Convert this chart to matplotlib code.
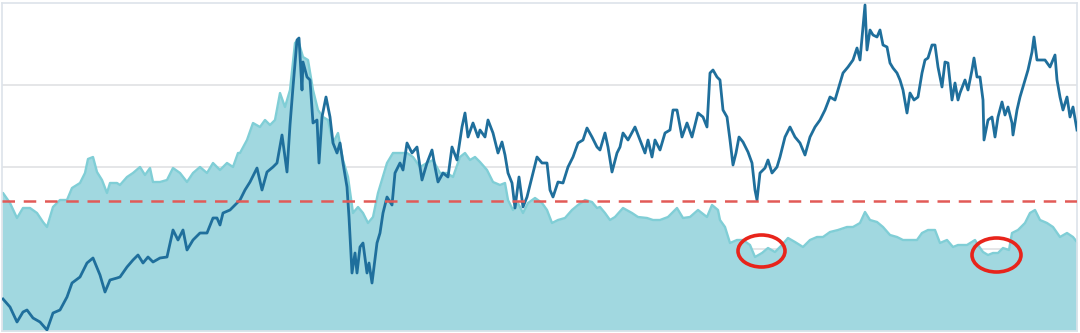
import matplotlib
matplotlib.use("Agg")
import matplotlib.pyplot as plt
from matplotlib.patches import Ellipse

# ---- data (x = time index, y = value) ----
area_t = [2, 3, 10, 17, 23, 30, 37, 43, 47, 53, 60, 67, 72, 80, 85, 88, 93, 97, 102, 107, 110, 117,
          120, 127, 133, 140, 145, 150, 153, 160, 167, 173, 180, 187, 193, 200, 207, 213, 220, 227, 233, 238,
          240, 247, 253, 260, 265, 270, 275, 280, 285, 290, 295, 298, 303, 308, 313, 318, 323, 328, 333, 338,
          343, 348, 353, 358, 363, 368, 373, 378, 387, 393, 400, 407, 413, 420, 427, 433, 440, 447, 453, 460,
          465, 470, 475, 480, 487, 493, 500, 505, 508, 513, 518, 523, 528, 535, 542, 547, 552, 558, 565, 572,
          578, 585, 592, 597, 600, 605, 610, 615, 623, 632, 638, 647, 653, 660, 668, 677, 683, 690, 698, 707,
          712, 718, 720, 725, 730, 737, 743, 750, 755, 762, 768, 775, 782, 788, 795, 803, 810, 817, 823, 830,
          838, 847, 853, 860, 865, 870, 877, 883, 890, 897, 903, 910, 917, 922, 928, 935, 940, 947, 953, 958,
          967, 975, 978, 983, 988, 993, 998, 1003, 1009, 1012, 1018, 1025, 1030, 1035, 1040, 1047, 1053, 1060,
          1067, 1073, 1077]
area_v = [138, 138, 128, 113, 123, 123, 118, 109, 104, 124, 131, 131, 143, 148, 158, 172, 174, 159, 151, 138, 148, 148,
          146, 154, 158, 164, 156, 163, 149, 149, 151, 163, 158, 149, 158, 164, 158, 168, 161, 168, 164, 178,
          178, 191, 208, 204, 211, 206, 211, 238, 224, 241, 288, 291, 274, 271, 241, 221, 214, 211, 188, 198,
          171, 154, 118, 124, 118, 108, 114, 138, 168, 178, 178, 178, 174, 164, 168, 171, 158, 158, 154, 174,
          178, 171, 174, 169, 161, 149, 146, 148, 131, 121, 128, 118, 128, 133, 128, 121, 108, 111, 113, 121,
          126, 131, 129, 123, 124, 118, 111, 114, 123, 118, 114, 113, 111, 111, 114, 123, 113, 114, 121, 114,
          126, 121, 111, 104, 88, 91, 91, 86, 74, 78, 83, 79, 86, 93, 89, 84, 91, 94, 94, 99,
          101, 104, 104, 108, 119, 111, 109, 104, 96, 94, 91, 91, 91, 98, 101, 101, 88, 91, 84, 86,
          86, 91, 86, 79, 76, 78, 78, 83, 81, 98, 101, 108, 118, 121, 111, 108, 104, 94,
          98, 94, 89]

line_t = [3, 10, 17, 23, 27, 33, 40, 47, 53, 60, 67, 72, 80, 87, 93, 100, 105, 110, 117,
          120, 127, 133, 138, 143, 148, 153, 160, 167, 173, 178, 183, 187, 193, 200, 207, 213, 217, 220, 223,
          230, 235, 240, 245, 250, 257, 262, 267, 273, 277, 282, 287, 290, 293, 297, 299, 302, 303, 307, 310,
          313, 317, 319, 322, 326, 330, 333, 337, 340, 343, 347, 349, 352, 355, 357, 360, 363, 367, 369, 372,
          377, 380, 383, 387, 392, 395, 400, 403, 407, 412, 417, 422, 427, 432, 435, 438, 443, 448, 452, 457,
          462, 465, 468, 473, 478, 480, 485, 488, 493, 498, 502, 505, 508, 512, 515, 519, 523, 527, 532, 537,
          542, 547, 550, 553, 558, 563, 568, 573, 578, 583, 587, 592, 597, 600, 605, 608, 612, 617, 620, 623,
          628, 635, 640, 645, 648, 652, 655, 660, 665, 670, 673, 677, 682, 687, 692, 698, 703, 707, 710, 713,
          717, 720, 723, 727, 730, 733, 736, 739, 743, 748, 752, 755, 757, 760, 765, 768, 772, 777, 780, 785,
          790, 795, 800, 805, 810, 815, 820, 825, 830, 835, 840, 843, 848, 853, 857, 860, 863, 865, 867, 870,
          873, 877, 880, 883, 887, 890, 893, 897, 900, 903, 907, 910, 914, 918, 922, 925, 928, 932, 935, 938,
          942, 945, 948, 952, 955, 958, 960, 965, 968, 972, 974, 977, 980, 983, 984, 988, 992, 995, 998, 1002,
          1005, 1008, 1012, 1013, 1017, 1020, 1023, 1028, 1032, 1034, 1037, 1040, 1045, 1050, 1055, 1057, 1060,
          1063, 1067, 1070, 1073, 1077]
line_v = [32, 24, 9, 19, 21, 13, 9, 1, 18, 21, 34, 48, 54, 68, 73, 56, 39, 51, 53,
          54, 64, 71, 76, 68, 74, 69, 73, 74, 101, 91, 101, 81, 91, 98, 98, 113, 113, 106, 118,
          121, 126, 131, 141, 149, 163, 141, 159, 164, 168, 196, 159, 206, 244, 291, 293, 241, 269, 254, 251,
          208, 211, 168, 214, 234, 214, 188, 178, 188, 168, 144, 114, 58, 78, 58, 84, 88, 58, 68, 48,
          88, 98, 118, 134, 126, 158, 168, 161, 188, 178, 184, 151, 168, 181, 164, 149, 158, 154, 184, 171,
          204, 218, 194, 208, 194, 201, 194, 211, 198, 178, 189, 176, 158, 148, 123, 154, 124, 134, 154, 174,
          168, 168, 141, 134, 149, 148, 164, 174, 188, 191, 203, 194, 184, 181, 198, 184, 159, 178, 184, 198,
          191, 204, 191, 178, 191, 174, 191, 181, 198, 201, 221, 221, 194, 208, 194, 218, 214, 204, 258, 261,
          254, 251, 221, 214, 191, 166, 178, 194, 189, 179, 168, 141, 131, 158, 163, 171, 158, 164, 174, 194,
          204, 194, 188, 176, 194, 204, 211, 221, 234, 231, 248, 258, 264, 271, 283, 271, 304, 326, 281, 301,
          296, 294, 301, 286, 284, 268, 263, 258, 251, 241, 218, 238, 231, 234, 258, 271, 273, 286, 286, 264,
          244, 269, 268, 231, 248, 231, 238, 251, 241, 261, 273, 254, 254, 231, 191, 211, 214, 194, 214, 229,
          216, 224, 208, 196, 221, 234, 244, 261, 279, 294, 271, 271, 271, 264, 276, 251, 234,
          221, 234, 214, 224, 201]

threshold = 130
gridlines = [82, 164, 246]
highlights = [(761.5, 80, 47, 32), (996.5, 76, 49, 34)]  # centre x, centre y, width, height

# ---- figure ----
fig = plt.figure(figsize=(10.8, 3.33), dpi=100)
ax = fig.add_axes([2 / 1080, 2 / 333, 1075 / 1080, 328 / 333])
ax.set_xlim(2, 1077)
ax.set_ylim(0, 328)

for g in gridlines:
    ax.axhline(g, color="#e3e4e6", lw=1.3, zorder=0)

ax.fill_between(area_t, area_v, 0, color="#a1d8e0", lw=0, zorder=1)
ax.plot(area_t, area_v, color="#80ced6", lw=1.7, zorder=2)
ax.plot(line_t, line_v, color="#1f6f9c", lw=2.0, zorder=3, solid_joinstyle="round")
ax.axhline(threshold, color="#e25a57", lw=1.8, ls=(0, (5, 3.5)), zorder=4)

for cx, cy, w, h in highlights:
    ax.add_patch(Ellipse((cx, cy), w, h, fill=False, ec="#e8241b", lw=2.6, zorder=5))

ax.set_xticks([])
ax.set_yticks([])
for s in ax.spines.values():
    s.set_color("#dde3ea")
    s.set_linewidth(1.2)

fig.savefig("out.png", dpi=100)
